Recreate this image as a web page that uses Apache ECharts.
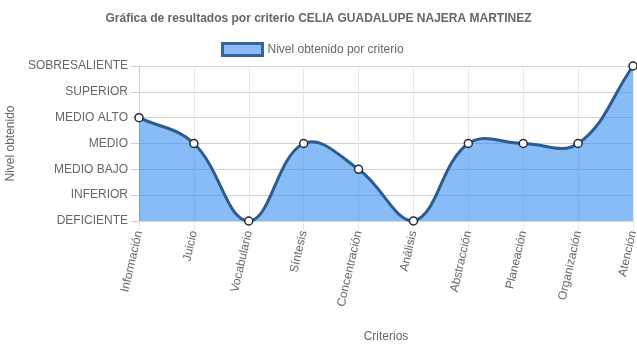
<!DOCTYPE html>
<html>
<head>
<meta charset="utf-8">
<script src="https://cdn.jsdelivr.net/npm/echarts@6/dist/echarts.min.js"></script>
<style>
  html, body { margin: 0; padding: 0; background: #fff; }
  #chart { width: 637px; height: 348px; }
</style>
</head>
<body>
<div id="chart"></div>
<script>
// Criteria evaluated and the level reached in each one (index into levels)
const criterios = ['Información', 'Juicio', 'Vocabulario', 'Síntesis', 'Concentración', 'Análisis', 'Abstracción', 'Planeación', 'Organización', 'Atención'];
const niveles = ['DEFICIENTE', 'INFERIOR', 'MEDIO BAJO', 'MEDIO', 'MEDIO ALTO', 'SUPERIOR', 'SOBRESALIENTE'];
const nivelObtenido = [4, 3, 0, 3, 2, 0, 3, 3, 3, 6];

const FONT = 'Liberation Sans, Arial, Helvetica, sans-serif';
const TXT = '#666';
const LINE_COLOR = '#2e5b8e';
const FILL_COLOR = 'rgba(30,128,240,0.53)';
const TENSION = 0.4;

// Cardinal-style spline through the points (tension 0.4), control points kept inside the plot
function splinePath(pts, area, closeToBottom) {
  const n = pts.length;
  const cps = pts.map(function (cur, i) {
    const prev = pts[Math.max(0, i - 1)];
    const next = pts[Math.min(n - 1, i + 1)];
    const d01 = Math.hypot(cur[0] - prev[0], cur[1] - prev[1]);
    const d12 = Math.hypot(next[0] - cur[0], next[1] - cur[1]);
    let s01 = d01 / (d01 + d12), s12 = d12 / (d01 + d12);
    if (!isFinite(s01)) s01 = 0;
    if (!isFinite(s12)) s12 = 0;
    const fa = TENSION * s01, fb = TENSION * s12;
    const clampY = function (y) { return Math.min(area.y + area.height, Math.max(area.y, y)); };
    const clampX = function (x) { return Math.min(area.x + area.width, Math.max(area.x, x)); };
    return {
      inX: clampX(cur[0] - fa * (next[0] - prev[0])),
      inY: clampY(cur[1] - fa * (next[1] - prev[1])),
      outX: clampX(cur[0] + fb * (next[0] - prev[0])),
      outY: clampY(cur[1] + fb * (next[1] - prev[1]))
    };
  });
  let d = 'M' + pts[0][0] + ' ' + pts[0][1];
  for (let i = 1; i < n; i++) {
    d += ' C' + cps[i - 1].outX + ' ' + cps[i - 1].outY + ' ' + cps[i].inX + ' ' + cps[i].inY + ' ' + pts[i][0] + ' ' + pts[i][1];
  }
  if (closeToBottom) {
    const base = area.y + area.height;
    d += ' L' + pts[n - 1][0] + ' ' + base + ' L' + pts[0][0] + ' ' + base + ' Z';
  }
  return d;
}

function renderCurve(params, api) {
  if (params.dataIndex !== 0) return null;
  const pts = nivelObtenido.map(function (v, i) { return api.coord([i, v]); });
  const area = params.coordSys;
  return {
    type: 'group',
    children: [
      { type: 'path', shape: { pathData: splinePath(pts, area, true) }, style: { fill: FILL_COLOR, stroke: null } },
      { type: 'path', shape: { pathData: splinePath(pts, area, false) }, style: { fill: null, stroke: LINE_COLOR, lineWidth: 3 } }
    ]
  };
}

const chart = echarts.init(document.getElementById('chart'), null, { renderer: 'canvas' });
chart.setOption({
  animation: false,
  textStyle: { fontFamily: FONT },
  title: {
    text: 'Gráfica de resultados por criterio CELIA GUADALUPE NAJERA MARTINEZ',
    left: 'center',
    top: 8,
    textStyle: { fontFamily: FONT, fontSize: 12, fontWeight: 'bold', color: TXT }
  },
  legend: {
    top: 37,
    left: 216,
    itemWidth: 40,
    itemHeight: 12,
    textStyle: { fontFamily: FONT, fontSize: 12, color: TXT },
    data: [{
      name: 'Nivel obtenido por criterio',
      icon: 'rect',
      itemStyle: { color: '#8cbaf7', borderColor: '#3565a0', borderWidth: 3 }
    }]
  },
  grid: { left: 139, right: 4, top: 66, bottom: 127, outerBoundsMode: 'none', containLabel: false },
  xAxis: {
    type: 'category',
    data: criterios,
    boundaryGap: false,
    name: 'Criterios',
    nameLocation: 'middle',
    nameGap: 110,
    nameTextStyle: { fontFamily: FONT, fontSize: 12, color: TXT },
    axisLine: { show: true, lineStyle: { color: '#d6d6d6', width: 1 } },
    axisTick: { show: true, length: 10, alignWithLabel: true, lineStyle: { color: '#e8e8e8' } },
    axisLabel: { rotate: 77, margin: 10, fontFamily: FONT, fontSize: 12, color: TXT, interval: 0 },
    splitLine: { show: true, lineStyle: { color: '#e8e8e8', width: 1 } }
  },
  yAxis: {
    type: 'value',
    min: 0,
    max: 6,
    interval: 1,
    name: 'Nivel obtenido',
    nameLocation: 'middle',
    nameGap: 117,
    nameTextStyle: { fontFamily: FONT, fontSize: 12, color: TXT },
    axisLine: { show: true, lineStyle: { color: '#cfcfcf', width: 1 } },
    axisTick: { show: true, length: 8, lineStyle: { color: '#cfcfcf' } },
    axisLabel: {
      margin: 11,
      fontFamily: FONT,
      fontSize: 12,
      color: TXT,
      formatter: function (v) { return niveles[v] || ''; }
    },
    splitLine: { show: true, lineStyle: { color: '#d2d2d2', width: 1 } }
  },
  series: [
    {
      name: 'Nivel obtenido por criterio',
      type: 'custom',
      renderItem: renderCurve,
      data: nivelObtenido.map(function (v, i) { return [i, v]; }),
      encode: { x: 0, y: 1 },
      clip: false,
      silent: true,
      z: 2
    },
    {
      name: 'puntos',
      type: 'scatter',
      data: nivelObtenido.map(function (v, i) { return [i, v]; }),
      symbol: 'circle',
      symbolSize: 8,
      itemStyle: { color: '#ffffff', borderColor: '#1f2a36', borderWidth: 1.5, opacity: 1 },
      emphasis: { disabled: true },
      silent: true,
      z: 3
    }
  ]
});
</script>
</body>
</html>
